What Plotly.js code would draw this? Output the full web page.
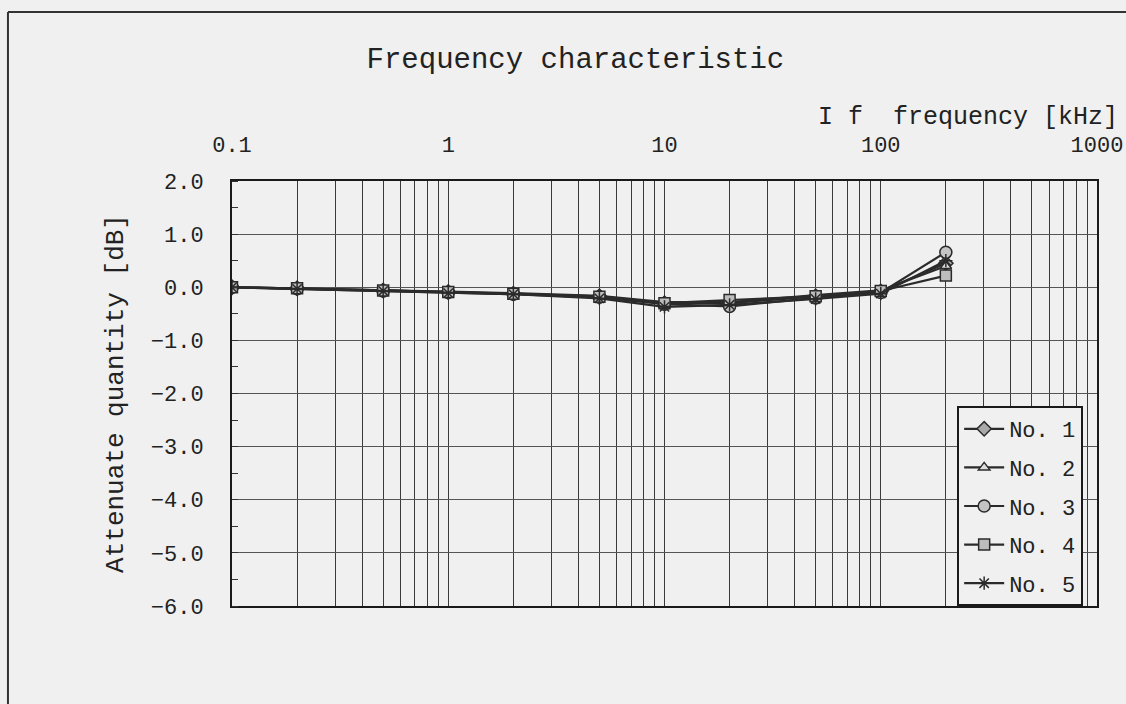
<!DOCTYPE html>
<html>
<head>
<meta charset="utf-8">
<script src="https://cdn.plot.ly/plotly-3.0.1.min.js"></script>
<style>
  html, body { margin: 0; padding: 0; background: #f0f0f0; }
  #chart { width: 1126px; height: 704px; }
</style>
</head>
<body>
<div id="chart"></div>
<script>
// Frequency points [kHz]
const frequency = [0.1, 0.2, 0.5, 1, 2, 5, 10, 20, 50, 100, 200];
// Attenuation [dB] per sample
const no1 = [0, -0.02, -0.06, -0.09, -0.12, -0.17, -0.30, -0.30, -0.17, -0.08, 0.45];
const no2 = [0, -0.02, -0.05, -0.08, -0.11, -0.16, -0.28, -0.28, -0.15, -0.06, 0.40];
const no3 = [0, -0.03, -0.07, -0.10, -0.13, -0.19, -0.32, -0.36, -0.20, -0.10, 0.66];
const no4 = [0, -0.02, -0.06, -0.09, -0.12, -0.18, -0.30, -0.24, -0.17, -0.07, 0.22];
const no5 = [0, -0.03, -0.07, -0.11, -0.13, -0.21, -0.37, -0.33, -0.22, -0.12, 0.50];
const seriesNames = ["No. 1", "No. 2", "No. 3", "No. 4", "No. 5"];

// Tick labels
const xDecades = [0.1, 1, 10, 100, 1000];
const xDecadeLabels = ["0.1", "1", "10", "100", "1000"];
const yTickVals = [2, 1, 0, -1, -2, -3, -4, -5, -6];
const yTickLabels = ["2.0", "1.0", "0.0", "−1.0", "−2.0", "−3.0", "−4.0", "−5.0", "−6.0"];

// Build all log grid positions (1..9 per decade)
const xGridVals = [];
const xGridText = [];
for (let d = 0; d < xDecades.length; d++) {
  const base = xDecades[d];
  if (d === xDecades.length - 1) { xGridVals.push(base); xGridText.push(xDecadeLabels[d]); break; }
  for (let m = 1; m <= 9; m++) {
    xGridVals.push(base * m);
    xGridText.push(m === 1 ? xDecadeLabels[d] : "");
  }
}

const FONT = "Liberation Mono, DejaVu Sans Mono, monospace";
const lineColor = "#2b2b2b";
const seriesData = [no1, no2, no3, no4, no5];
const markerSymbols = ["diamond", "triangle-up", "circle", "square", "asterisk-open"];
const markerFills = ["#a9a9a9", "#dcdcdc", "#c4c4c4", "#bdbdbd", "#2b2b2b"];
const markerSizes = [11, 10, 12, 11, 11];

const traces = seriesData.map((vals, i) => ({
  x: frequency,
  y: vals,
  name: seriesNames[i],
  type: "scatter",
  mode: "lines+markers",
  legendgroup: "g" + i,
  line: { color: lineColor, width: 2.2 },
  marker: {
    symbol: markerSymbols[i],
    size: markerSizes[i],
    color: markerFills[i],
    line: { color: lineColor, width: 1.5 }
  }
}));

const layout = {
  width: 1126,
  height: 704,
  paper_bgcolor: "#f0f0f0",
  plot_bgcolor: "#f0f0f0",
  margin: { l: 232, r: 29, t: 181, b: 98 },
  font: { family: FONT, color: "#222" },
  showlegend: true,
  title: {
    text: "Frequency characteristic",
    font: { family: FONT, size: 29, color: "#222" },
    xref: "container", x: 0.511, xanchor: "center",
    yref: "container", y: 0.918, yanchor: "middle"
  },
  xaxis: {
    type: "log",
    range: [-1, 3],
    side: "top",
    tickmode: "array",
    tickvals: xGridVals,
    ticktext: xGridText,
    ticks: "",
    ticklabelstandoff: 18,
    tickfont: { family: FONT, size: 22, color: "#222" },
    showgrid: true,
    gridcolor: "#3a3a3a",
    gridwidth: 1,
    showline: true,
    linecolor: "#1a1a1a",
    linewidth: 2,
    mirror: true,
    zeroline: false,
    fixedrange: true
  },
  yaxis: {
    range: [-6, 2],
    tickmode: "array",
    tickvals: yTickVals,
    ticktext: yTickLabels,
    ticks: "",
    ticklabelstandoff: 22,
    tickfont: { family: FONT, size: 22, color: "#222" },
    showgrid: true,
    gridcolor: "#555",
    gridwidth: 1,
    showline: true,
    linecolor: "#1a1a1a",
    linewidth: 2,
    mirror: true,
    zeroline: false,
    minor: { dtick: 0.5, ticks: "inside", ticklen: 6, tickcolor: "#333", showgrid: false },
    title: {
      text: "Attenuate quantity [dB]",
      font: { family: FONT, size: 26, color: "#222" },
      standoff: 20
    },
    fixedrange: true
  },
  legend: {
    x: 0.984, xanchor: "right",
    y: 0, yanchor: "bottom",
    bgcolor: "#f0f0f0",
    bordercolor: "#1a1a1a",
    borderwidth: 2,
    font: { family: FONT, size: 22, color: "#222" },
    tracegroupgap: 7,
    itemwidth: 40
  },
  annotations: [
    {
      text: "I f  frequency [kHz]",
      xref: "paper", yref: "paper",
      x: 1.0266, xanchor: "right",
      y: 1.150, yanchor: "middle",
      showarrow: false,
      font: { family: FONT, size: 25, color: "#222" }
    }
  ],
  shapes: [
    { type: "line", xref: "paper", yref: "paper", x0: -0.259, x1: 1.04, y0: 1.3976, y1: 1.3976,
      line: { color: "#333", width: 2 }, layer: "above" },
    { type: "line", xref: "paper", yref: "paper", x0: -0.259, x1: -0.259, y0: 1.3976, y1: -0.235,
      line: { color: "#333", width: 2 }, layer: "above" }
  ]
};

Plotly.newPlot("chart", traces, layout, { displayModeBar: false, staticPlot: true });
</script>
</body>
</html>
